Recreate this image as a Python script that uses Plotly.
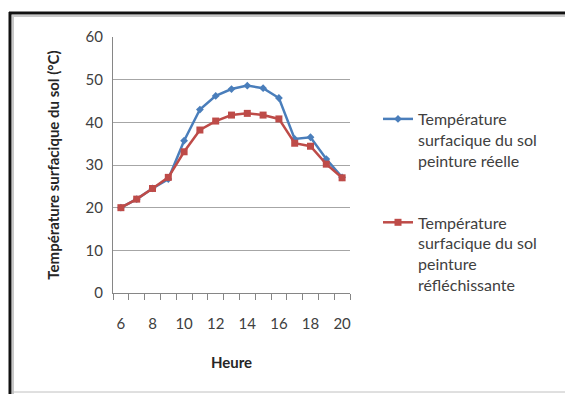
import plotly.graph_objects as go

heures = [6, 7, 8, 9, 10, 11, 12, 13, 14, 15, 16, 17, 18, 19, 20]
temp_reelle = [20.0, 22.0, 24.5, 26.7, 35.7, 43.0, 46.2, 47.8, 48.6, 48.0, 45.7, 36.1, 36.5, 31.4, 27.1]
temp_reflechissante = [20.0, 22.0, 24.5, 27.1, 33.1, 38.2, 40.3, 41.7, 42.1, 41.7, 40.8, 35.1, 34.4, 30.2, 27.0]
x_tick_labels = ["6", "8", "10", "12", "14", "16", "18", "20"]
x_tick_vals = [6, 8, 10, 12, 14, 16, 18, 20]

FONT = "Lato"
W, H = 565, 394
ML, MR, MT, MB = 113, 215, 37, 101
PW, PH = W - ML - MR, H - MT - MB


def px_x(p):
    return (p - ML) / PW


def px_y(p):
    return (H - MB - p) / PH


fig = go.Figure()
fig.add_trace(go.Scatter(
    x=heures, y=temp_reelle, mode="lines+markers",
    name="Température<br>surfacique du sol<br>peinture réelle",
    line=dict(color="#4A7EBB", width=2.5),
    marker=dict(symbol="diamond", size=6, color="#4A7EBB"),
    legendgroup="a",
))
fig.add_trace(go.Scatter(
    x=heures, y=temp_reflechissante, mode="lines+markers",
    name="Température<br>surfacique du sol<br>peinture<br>réfléchissante",
    line=dict(color="#BE4B48", width=2.5),
    marker=dict(symbol="square", size=7, color="#BE4B48"),
    legendgroup="b",
))

fig.update_layout(
    width=W, height=H,
    margin=dict(l=ML, r=MR, t=MT, b=MB, pad=0),
    paper_bgcolor="white", plot_bgcolor="white",
    font=dict(family=FONT, size=15, color="#404040"),
    showlegend=True,
    legend=dict(
        x=px_x(378), y=px_y(102), xanchor="left", yanchor="top",
        font=dict(family=FONT, size=16, color="#404040"),
        valign="top", tracegroupgap=38, itemwidth=30,
        bgcolor="rgba(0,0,0,0)",
    ),
    xaxis=dict(
        range=[5.5, 20.5], tickmode="array", tickvals=x_tick_vals,
        ticktext=x_tick_labels, ticks="outside", ticklen=17,
        tickcolor="rgba(0,0,0,0)", showgrid=False, zeroline=False,
        showline=True, linecolor="#868686", linewidth=1,
        minor=dict(tickmode="linear", tick0=5.5, dtick=1, ticks="outside",
                   ticklen=6, tickcolor="#868686", showgrid=False),
        title=dict(text="<b>Heure</b>", font=dict(family=FONT, size=15, color="#262626"), standoff=26),
        tickfont=dict(family=FONT, size=15, color="#404040"),
    ),
    yaxis=dict(
        range=[0, 60], dtick=10, showgrid=True, gridcolor="#A6A6A6", gridwidth=1,
        zeroline=False, showline=True, linecolor="#868686", linewidth=1,
        ticks="outside", ticklen=6, tickcolor="rgba(0,0,0,0)",
        title=dict(text="<b>Température surfacique du sol (°C)</b>",
                   font=dict(family=FONT, size=15, color="#262626"), standoff=22),
        tickfont=dict(family=FONT, size=15, color="#404040"),
    ),
)

# outer frame of the chart (Excel-style border)
fig.add_shape(type="line", xref="paper", yref="paper",
              x0=px_x(9), x1=px_x(570), y0=px_y(13), y1=px_y(13),
              line=dict(color="#111111", width=3))
fig.add_shape(type="line", xref="paper", yref="paper",
              x0=px_x(10), x1=px_x(10), y0=px_y(12), y1=px_y(400),
              line=dict(color="#111111", width=3))
fig.add_shape(type="line", xref="paper", yref="paper",
              x0=px_x(12), x1=px_x(570), y0=px_y(16), y1=px_y(16),
              line=dict(color="#C8C8C8", width=2))
fig.add_shape(type="line", xref="paper", yref="paper",
              x0=px_x(13), x1=px_x(13), y0=px_y(15), y1=px_y(400),
              line=dict(color="#C8C8C8", width=2))
fig.add_shape(type="line", xref="paper", yref="paper",
              x0=px_x(12), x1=px_x(570), y0=px_y(392), y1=px_y(392),
              line=dict(color="#C0C0C0", width=1))

fig.write_html("out.html")
